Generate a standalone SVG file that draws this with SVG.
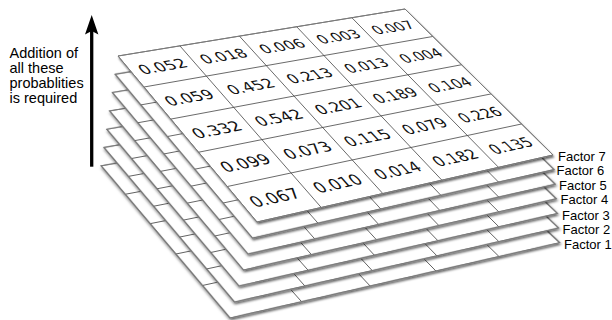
<svg xmlns="http://www.w3.org/2000/svg" xmlns:xlink="http://www.w3.org/1999/xlink" width="612" height="320" viewBox="0 0 612 320">
<style>
.edge{fill:#fff;stroke:#7a7a7a;stroke-width:1}
.grid{fill:none;stroke:#444;stroke-width:0.8}
.num{font-family:"DejaVu Sans",Verdana,sans-serif;font-size:15.5px;fill:#111;text-anchor:middle}
.lab{font-family:"Liberation Sans",Arial,sans-serif;font-size:13px;fill:#000}
.note{font-family:"Liberation Sans",Arial,sans-serif;font-size:14.5px;fill:#000}
</style>
<defs>
<filter id="sh" x="-10%" y="-10%" width="125%" height="130%">
<feDropShadow dx="1" dy="2" stdDeviation="1.3" flood-color="#000" flood-opacity="0.6"/>
</filter>
<marker id="ah" markerUnits="userSpaceOnUse" viewBox="-4 -7 22 14" markerWidth="22" markerHeight="14" refX="0" refY="0" orient="auto" overflow="visible">
<path d="M16,0 L-3.5,-6.7 L0,0 L-3.5,6.7 Z" fill="#000"/>
</marker>
<g id="sheet">
<polygon class="edge" points="118,56 405,9 553,155 257,222" filter="url(#sh)"/>
<path class="grid" d="M179.91,45.86L321.24,207.46M239.43,36.12L382.81,193.53M296.70,26.74L441.86,180.16M351.85,17.70L498.54,167.33M143.98,87.03L432.84,36.47M170.83,119.09L461.52,64.76M198.58,152.23L491.08,93.92M227.29,186.52L521.56,123.99"/>
<polygon points="118,56 405,9 553,155 257,222" fill="none" stroke="#7a7a7a" stroke-width="1"/>
</g>
</defs>
<g id="factor1">
<use xlink:href="#sheet" href="#sheet" transform="matrix(1.08373,-0.039672,-0.131556,0.950086,-19.3128,117.276)"/>
<text class="lab" x="564" y="248.5">Factor 1</text>
</g>
<g id="factor2">
<use xlink:href="#sheet" href="#sheet" transform="matrix(1.069775,-0.03306,-0.10963,0.958405,-16.094,97.73)"/>
<text class="lab" x="562.5" y="234">Factor 2</text>
</g>
<g id="factor3">
<use xlink:href="#sheet" href="#sheet" transform="matrix(1.05582,-0.026448,-0.087704,0.966724,-12.8752,78.184)"/>
<text class="lab" x="562" y="219.5">Factor 3</text>
</g>
<g id="factor4">
<use xlink:href="#sheet" href="#sheet" transform="matrix(1.041865,-0.019836,-0.065778,0.975043,-9.6564,58.638)"/>
<text class="lab" x="560.5" y="204">Factor 4</text>
</g>
<g id="factor5">
<use xlink:href="#sheet" href="#sheet" transform="matrix(1.02791,-0.013224,-0.043852,0.983362,-6.4376,39.092)"/>
<text class="lab" x="559" y="190">Factor 5</text>
</g>
<g id="factor6">
<use xlink:href="#sheet" href="#sheet" transform="matrix(1.013955,-0.006612,-0.021926,0.991681,-3.2188,19.546)"/>
<text class="lab" x="556.5" y="175">Factor 6</text>
</g>
<g id="factor7">
<use xlink:href="#sheet" href="#sheet"/>
<text class="lab" x="558" y="160.5">Factor 7</text>
<g class="num">
<text transform="matrix(1.0356,-0.1754,0.6556,0.7658,162.27,66.07)" y="6">0.052</text>
<text transform="matrix(0.9954,-0.1686,0.6668,0.7467,223.19,55.76)" y="6">0.018</text>
<text transform="matrix(0.9576,-0.1621,0.6766,0.7286,281.77,45.84)" y="6">0.006</text>
<text transform="matrix(0.9218,-0.1561,0.6852,0.7112,338.14,36.29)" y="6">0.003</text>
<text transform="matrix(0.8880,-0.1504,0.6927,0.6946,392.42,27.10)" y="6">0.007</text>
<text transform="matrix(1.0435,-0.1888,0.6772,0.7910,188.92,97.21)" y="6">0.059</text>
<text transform="matrix(1.0024,-0.1813,0.6882,0.7708,250.28,86.11)" y="6">0.452</text>
<text transform="matrix(0.9636,-0.1743,0.6979,0.7516,309.25,75.44)" y="6">0.213</text>
<text transform="matrix(0.9271,-0.1677,0.7064,0.7333,365.96,65.18)" y="6">0.013</text>
<text transform="matrix(0.8926,-0.1615,0.7137,0.7158,420.55,55.31)" y="6">0.004</text>
<text transform="matrix(1.0513,-0.2030,0.6998,0.8174,216.46,129.37)" y="6">0.332</text>
<text transform="matrix(1.0092,-0.1948,0.7108,0.7961,278.26,117.44)" y="6">0.542</text>
<text transform="matrix(0.9696,-0.1872,0.7204,0.7757,337.61,105.98)" y="6">0.201</text>
<text transform="matrix(0.9323,-0.1800,0.7286,0.7563,394.66,94.97)" y="6">0.189</text>
<text transform="matrix(0.8971,-0.1732,0.7358,0.7379,449.53,84.38)" y="6">0.104</text>
<text transform="matrix(1.0591,-0.2180,0.7237,0.8453,244.92,162.62)" y="6">0.099</text>
<text transform="matrix(1.0160,-0.2091,0.7345,0.8226,307.16,149.81)" y="6">0.073</text>
<text transform="matrix(0.9755,-0.2008,0.7439,0.8010,366.90,137.51)" y="6">0.115</text>
<text transform="matrix(0.9374,-0.1929,0.7519,0.7805,424.27,125.70)" y="6">0.079</text>
<text transform="matrix(0.9014,-0.1855,0.7588,0.7610,479.42,114.35)" y="6">0.226</text>
<text transform="matrix(1.0668,-0.2340,0.7487,0.8745,274.37,197.01)" y="6">0.067</text>
<text transform="matrix(1.0227,-0.2243,0.7594,0.8505,337.04,183.26)" y="6">0.010</text>
<text transform="matrix(0.9812,-0.2152,0.7686,0.8276,397.14,170.08)" y="6">0.014</text>
<text transform="matrix(0.9423,-0.2067,0.7764,0.8059,454.83,157.43)" y="6">0.182</text>
<text transform="matrix(0.9056,-0.1986,0.7830,0.7853,510.26,145.27)" y="6">0.135</text>
</g>
</g>
<g id="connectors">
<line x1="91.7" y1="166.7" x2="91.7" y2="31" stroke="#000" stroke-width="3.3" marker-end="url(#ah)"/>
</g>
<g id="note">
<text class="note" x="9.5" y="57.7">Addition of</text>
<text class="note" x="9.5" y="72.7">all these</text>
<text class="note" x="9.5" y="87.7">probablities</text>
<text class="note" x="9.5" y="102.7">is required</text>
</g>
</svg>
